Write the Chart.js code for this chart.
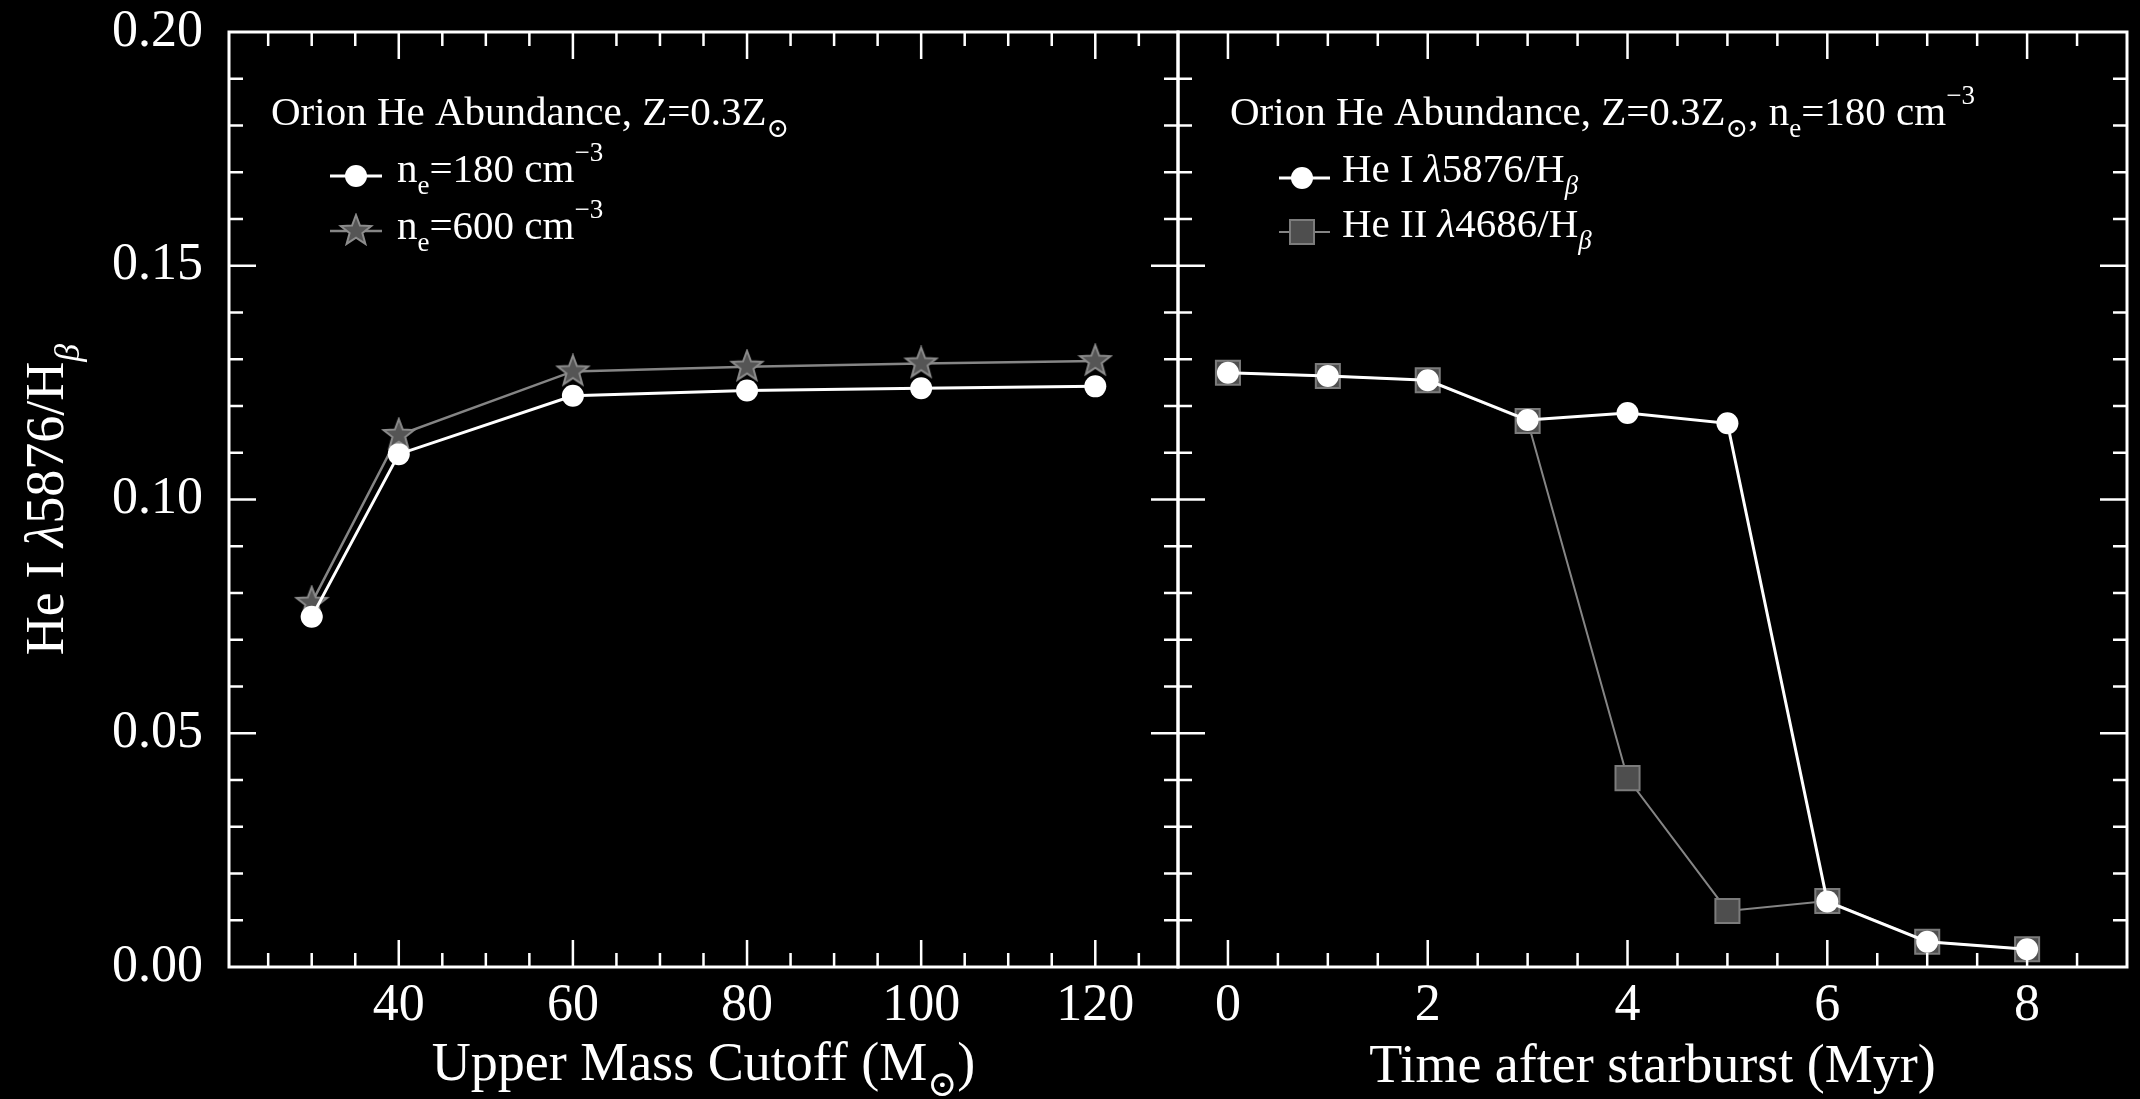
<!DOCTYPE html>
<html>
<head>
<meta charset="utf-8">
<title>Orion He abundance</title>
<script src="https://cdn.jsdelivr.net/npm/chart.js@4.4.1/dist/chart.umd.min.js"></script>
<style>
    html, body { margin: 0; padding: 0; background: #000; overflow: hidden; }
    #wrap { position: relative; width: 2140px; height: 1099px; }
    canvas { position: absolute; top: 0; }
    #left { left: 0; }
    #right { left: 1166px; }
</style>
</head>
<body>
<div id="wrap">
    <canvas id="left" width="1190" height="1099"></canvas>
    <canvas id="right" width="974" height="1099"></canvas>
</div>
<script>
// left panel: upper mass cutoff (Msun)
var massCut = [30, 40, 60, 80, 100, 120];
var heNe180 = [0.0749, 0.1097, 0.1222, 0.1233, 0.1238, 0.1242];
var heNe600 = [0.0779, 0.1138, 0.1274, 0.1284, 0.1291, 0.1296];

// right panel: time after starburst (Myr)
var ageMyr = [0, 1, 2, 3, 4, 5, 6, 7, 8];
var heI5876 = [0.1271, 0.1264, 0.1255, 0.1170, 0.1185, 0.1163, 0.0140, 0.0054, 0.0038];
var heII4686 = [0.1271, 0.1264, 0.1255, 0.1168, 0.0404, 0.0120, 0.0141, 0.0054, 0.0038];

var massTicks = [40, 60, 80, 100, 120];
var ageTicks = [0, 2, 4, 6, 8];
var ratioTicks = [0, 0.05, 0.10, 0.15, 0.20];

var SERIF = "'Liberation Serif', 'DejaVu Serif', serif";
var WHITE = "#ffffff";
var GREY_LINE = "#858585";
var GREY_FILL = "#4e4e4e";
var GREY_EDGE = "#7c7c7c";

function points(xs, ys) {
    return xs.map(function (x, i) {
        return {x: x, y: ys[i]};
    });
}

function makeStar(r, fill, edge) {
    var c = document.createElement("canvas");
    var s = Math.ceil(r * 2 + 4);
    c.width = s;
    c.height = s;
    var g = c.getContext("2d");
    g.beginPath();
    for (var k = 0; k < 10; k++) {
        var rr = k % 2 ? r * 0.42 : r;
        var ang = -Math.PI / 2 + k * Math.PI / 5;
        g.lineTo(s / 2 + rr * Math.cos(ang), s / 2 + rr * Math.sin(ang));
    }
    g.closePath();
    g.fillStyle = fill;
    g.fill();
    g.strokeStyle = edge;
    g.lineWidth = 2;
    g.stroke();
    return c;
}
var starImg = makeStar(16, "#555555", "#8c8c8c");

// text with sub/superscripts: parts = [[text, kind], ...]
function partFont(kind, size) {
    var small = kind == "sub" || kind == "sup" || kind == "subi";
    var it = kind == "i" || kind == "subi" ? "italic " : "";
    return it + Math.round(small ? size * 0.66 : size) + "px " + SERIF;
}
function partShift(kind, size) {
    if (kind == "sub" || kind == "subi") return size * 0.3;
    if (kind == "sup") return -size * 0.52;
    return 0;
}
function drawRich(ctx, x, y, parts, size, align) {
    var total = 0;
    parts.forEach(function (p) {
        ctx.font = partFont(p[1] || "n", size);
        total += ctx.measureText(p[0]).width;
    });
    var cx = align == "center" ? x - total / 2 : x;
    ctx.textAlign = "left";
    ctx.textBaseline = "alphabetic";
    ctx.fillStyle = WHITE;
    parts.forEach(function (p) {
        var kind = p[1] || "n";
        ctx.font = partFont(kind, size);
        ctx.fillText(p[0], cx, y + partShift(kind, size));
        cx += ctx.measureText(p[0]).width;
    });
}

function legendMarker(ctx, kind, cx, cy, x0, x1, lineColor, lineWidth) {
    ctx.strokeStyle = lineColor;
    ctx.lineWidth = lineWidth;
    ctx.beginPath();
    ctx.moveTo(x0, cy);
    ctx.lineTo(x1, cy);
    ctx.stroke();
    if (kind == "circle") {
        ctx.fillStyle = WHITE;
        ctx.beginPath();
        ctx.arc(cx, cy, 11, 0, Math.PI * 2);
        ctx.fill();
    } else if (kind == "star") {
        ctx.drawImage(starImg, cx - starImg.width / 2, cy - starImg.height / 2);
    } else {
        ctx.fillStyle = GREY_FILL;
        ctx.strokeStyle = GREY_EDGE;
        ctx.lineWidth = 2;
        ctx.fillRect(cx - 12, cy - 12, 24, 24);
        ctx.strokeRect(cx - 12, cy - 12, 24, 24);
    }
}

// box with inward ticks on all four sides
var framePlugin = {
    id: "frame",
    afterDatasetsDraw: function (chart, args, opts) {
        var ctx = chart.ctx, a = chart.chartArea;
        var xs = chart.scales.x, ys = chart.scales.y;
        ctx.save();
        ctx.strokeStyle = WHITE;
        ctx.lineWidth = 2.5;
        ctx.beginPath();
        var k, v, p, len;
        for (k = Math.ceil(xs.min / opts.xMinor - 1e-9); k * opts.xMinor <= xs.max + 1e-9; k++) {
            v = k * opts.xMinor;
            p = xs.getPixelForValue(v);
            if (p < a.left + 3 || p > a.right - 3) continue;
            len = Math.abs(v / opts.xMajor - Math.round(v / opts.xMajor)) < 1e-6 ? 27 : 14;
            ctx.moveTo(p, a.bottom);
            ctx.lineTo(p, a.bottom - len);
            ctx.moveTo(p, a.top);
            ctx.lineTo(p, a.top + len);
        }
        for (k = Math.ceil(ys.min / 0.01 - 1e-9); k * 0.01 <= ys.max + 1e-9; k++) {
            v = k * 0.01;
            p = ys.getPixelForValue(v);
            if (p < a.top + 3 || p > a.bottom - 3) continue;
            len = k % 5 == 0 ? 27 : 14;
            ctx.moveTo(a.left, p);
            ctx.lineTo(a.left + len, p);
            ctx.moveTo(a.right, p);
            ctx.lineTo(a.right - len, p);
        }
        ctx.stroke();
        ctx.lineWidth = 3;
        ctx.strokeRect(a.left, a.top, a.right - a.left, a.bottom - a.top);
        ctx.restore();
    }
};

var leftText = {
    id: "leftText",
    afterDraw: function (chart) {
        var ctx = chart.ctx, a = chart.chartArea;
        ctx.save();
        // y axis title
        ctx.save();
        ctx.translate(63, (a.top + a.bottom) / 2);
        ctx.rotate(-Math.PI / 2);
        drawRich(ctx, 0, 0, [["He I "], ["\u03BB", "i"], ["5876/H"], ["\u03B2", "subi"]], 54, "center");
        ctx.restore();
        drawRich(ctx, (a.left + a.right) / 2, a.bottom + 113,
            [["Upper Mass Cutoff (M"], ["\u2299", "sub"], [")"]], 54, "center");
        // legend
        drawRich(ctx, a.left + 42, a.top + 93, [["Orion He Abundance, Z=0.3Z"], ["\u2299", "sub"]], 41);
        legendMarker(ctx, "circle", a.left + 127, a.top + 144, a.left + 101, a.left + 153, WHITE, 3);
        drawRich(ctx, a.left + 168, a.top + 150, [["n"], ["e", "sub"], ["=180 cm"], ["\u22123", "sup"]], 41);
        legendMarker(ctx, "star", a.left + 127, a.top + 199, a.left + 101, a.left + 153, GREY_LINE, 2.5);
        drawRich(ctx, a.left + 168, a.top + 207, [["n"], ["e", "sub"], ["=600 cm"], ["\u22123", "sup"]], 41);
        ctx.restore();
    }
};

var rightText = {
    id: "rightText",
    afterDraw: function (chart) {
        var ctx = chart.ctx, a = chart.chartArea;
        ctx.save();
        drawRich(ctx, (a.left + a.right) / 2, a.bottom + 115, [["Time after starburst (Myr)"]], 54, "center");
        drawRich(ctx, a.left + 52, a.top + 93,
            [["Orion He Abundance, Z=0.3Z"], ["\u2299", "sub"], [", n"], ["e", "sub"], ["=180 cm"], ["\u22123", "sup"]], 41);
        legendMarker(ctx, "circle", a.left + 124, a.top + 146, a.left + 101, a.left + 152, WHITE, 3);
        drawRich(ctx, a.left + 164, a.top + 150, [["He I "], ["\u03BB", "i"], ["5876/H"], ["\u03B2", "subi"]], 41);
        legendMarker(ctx, "square", a.left + 124, a.top + 200, a.left + 101, a.left + 152, GREY_LINE, 2);
        drawRich(ctx, a.left + 164, a.top + 205, [["He II "], ["\u03BB", "i"], ["4686/H"], ["\u03B2", "subi"]], 41);
        ctx.restore();
    }
};

function tickFont() {
    return {family: SERIF, size: 52};
}

// labels may overhang the plot box, so drop the padding chart.js adds for them
function noOverhang(s) {
    s.paddingTop = 0;
    s.paddingBottom = 0;
    s.paddingLeft = 0;
    s.paddingRight = 0;
}

function xAxis(min, max, values) {
    return {
        type: "linear",
        min: min,
        max: max,
        afterBuildTicks: function (s) {
            s.ticks = values.map(function (v) {
                return {value: v};
            });
        },
        afterFit: function (s) {
            s.height = 132;
            noOverhang(s);
        },
        grid: {display: false, drawTicks: false},
        border: {display: false},
        ticks: {color: WHITE, font: tickFont(), padding: 8, maxRotation: 0, autoSkip: false}
    };
}

new Chart(document.getElementById("left"), {
    type: "line",
    data: {
        datasets: [
            {
                label: "ne=180",
                data: points(massCut, heNe180),
                borderColor: WHITE,
                borderWidth: 3,
                pointStyle: "circle",
                pointRadius: 11,
                pointBackgroundColor: WHITE,
                pointBorderColor: WHITE,
                pointBorderWidth: 0,
                tension: 0
            },
            {
                label: "ne=600",
                data: points(massCut, heNe600),
                borderColor: GREY_LINE,
                borderWidth: 2.5,
                pointStyle: starImg,
                pointRadius: 16,
                tension: 0
            }
        ]
    },
    options: {
        responsive: false,
        devicePixelRatio: 1,
        animation: false,
        events: [],
        layout: {autoPadding: false, padding: {top: 32, right: 12, left: 0, bottom: 0}},
        plugins: {
            legend: {display: false},
            tooltip: {enabled: false},
            frame: {xMajor: 20, xMinor: 5}
        },
        scales: {
            x: xAxis(20.5, 129.5, massTicks),
            y: {
                type: "linear",
                min: 0,
                max: 0.2,
                afterBuildTicks: function (s) {
                    s.ticks = ratioTicks.map(function (v) {
                        return {value: v};
                    });
                },
                afterFit: function (s) {
                    s.width = 229;
                    noOverhang(s);
                },
                grid: {display: false, drawTicks: false},
                border: {display: false},
                ticks: {
                    color: WHITE,
                    font: tickFont(),
                    padding: 26,
                    callback: function (v) {
                        return v.toFixed(2);
                    }
                }
            }
        }
    },
    plugins: [framePlugin, leftText]
});

new Chart(document.getElementById("right"), {
    type: "line",
    data: {
        datasets: [
            {
                label: "He I 5876/Hb",
                data: points(ageMyr, heI5876),
                borderColor: WHITE,
                borderWidth: 3,
                pointStyle: "circle",
                pointRadius: 11,
                pointBackgroundColor: WHITE,
                pointBorderColor: WHITE,
                pointBorderWidth: 0,
                tension: 0
            },
            {
                label: "He II 4686/Hb",
                data: points(ageMyr, heII4686),
                borderColor: GREY_LINE,
                borderWidth: 2,
                pointStyle: "rect",
                pointRadius: 17,
                pointBackgroundColor: GREY_FILL,
                pointBorderColor: GREY_EDGE,
                pointBorderWidth: 2,
                tension: 0
            }
        ]
    },
    options: {
        responsive: false,
        devicePixelRatio: 1,
        animation: false,
        events: [],
        layout: {autoPadding: false, padding: {top: 32, right: 13, left: 12, bottom: 0}},
        plugins: {
            legend: {display: false},
            tooltip: {enabled: false},
            frame: {xMajor: 2, xMinor: 0.5}
        },
        scales: {
            x: xAxis(-0.5, 9, ageTicks),
            y: {type: "linear", display: false, min: 0, max: 0.2}
        }
    },
    plugins: [framePlugin, rightText]
});
</script>
</body>
</html>
